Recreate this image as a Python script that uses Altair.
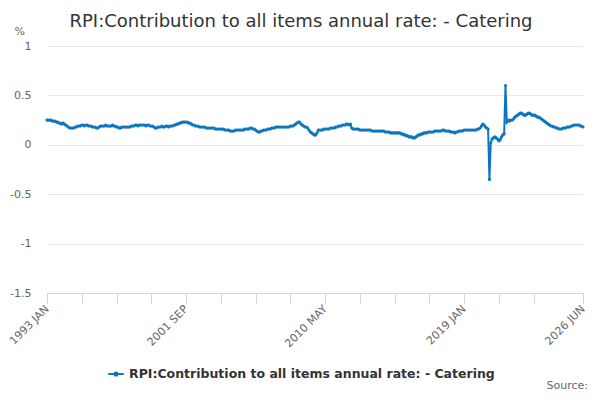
import altair as alt
import pandas as pd

series_name = "RPI:Contribution to all items annual rate: - Catering"
line_color = "#0f76bd"

# monthly values (Jan..Dec)
v1993 = [0.25, 0.25, 0.25, 0.25, 0.24, 0.24, 0.24, 0.23, 0.23, 0.22, 0.22, 0.21]
v1994 = [0.22, 0.21, 0.20, 0.19, 0.18, 0.17, 0.17, 0.17, 0.17, 0.18, 0.18, 0.19]
v1995 = [0.19, 0.19, 0.20, 0.20, 0.19, 0.20, 0.20, 0.19, 0.19, 0.19, 0.18, 0.18]
v1996 = [0.18, 0.17, 0.17, 0.18, 0.19, 0.19, 0.19, 0.19, 0.20, 0.19, 0.19, 0.19]
v1997 = [0.19, 0.20, 0.19, 0.19, 0.18, 0.18, 0.17, 0.17, 0.18, 0.18, 0.18, 0.18]
v1998 = [0.18, 0.18, 0.18, 0.19, 0.19, 0.19, 0.20, 0.20, 0.19, 0.20, 0.20, 0.20]
v1999 = [0.20, 0.20, 0.19, 0.20, 0.20, 0.19, 0.19, 0.19, 0.18, 0.17, 0.17, 0.18]
v2000 = [0.18, 0.18, 0.19, 0.18, 0.18, 0.19, 0.19, 0.18, 0.19, 0.19, 0.19, 0.20]
v2001 = [0.20, 0.21, 0.21, 0.22, 0.22, 0.23, 0.23, 0.23, 0.23, 0.23, 0.22, 0.22]
v2002 = [0.21, 0.20, 0.20, 0.19, 0.19, 0.19, 0.18, 0.18, 0.18, 0.18, 0.18, 0.17]
v2003 = [0.17, 0.17, 0.17, 0.17, 0.17, 0.17, 0.16, 0.16, 0.16, 0.16, 0.16, 0.16]
v2004 = [0.16, 0.15, 0.15, 0.15, 0.15, 0.14, 0.14, 0.14, 0.14, 0.15, 0.15, 0.15]
v2005 = [0.15, 0.15, 0.15, 0.15, 0.16, 0.16, 0.16, 0.16, 0.17, 0.17, 0.16, 0.16]
v2006 = [0.15, 0.14, 0.13, 0.13, 0.14, 0.14, 0.15, 0.15, 0.15, 0.16, 0.16, 0.16]
v2007 = [0.17, 0.17, 0.17, 0.18, 0.18, 0.18, 0.18, 0.18, 0.18, 0.18, 0.18, 0.18]
v2008 = [0.18, 0.18, 0.19, 0.19, 0.19, 0.20, 0.21, 0.22, 0.23, 0.23, 0.21, 0.20]
v2009 = [0.19, 0.18, 0.18, 0.17, 0.15, 0.13, 0.12, 0.11, 0.10, 0.10, 0.12, 0.15]
v2010 = [0.15, 0.15, 0.15, 0.16, 0.16, 0.16, 0.16, 0.16, 0.17, 0.17, 0.17, 0.17]
v2011 = [0.18, 0.18, 0.19, 0.19, 0.19, 0.20, 0.20, 0.20, 0.21, 0.21, 0.20, 0.21]
v2012 = [0.17, 0.16, 0.16, 0.16, 0.16, 0.16, 0.15, 0.15, 0.15, 0.15, 0.15, 0.15]
v2013 = [0.15, 0.15, 0.15, 0.14, 0.14, 0.14, 0.14, 0.14, 0.14, 0.14, 0.14, 0.14]
v2014 = [0.14, 0.13, 0.13, 0.13, 0.13, 0.12, 0.12, 0.12, 0.12, 0.12, 0.12, 0.12]
v2015 = [0.12, 0.11, 0.11, 0.10, 0.10, 0.09, 0.09, 0.08, 0.08, 0.08, 0.07, 0.07]
v2016 = [0.08, 0.09, 0.10, 0.10, 0.11, 0.11, 0.12, 0.12, 0.12, 0.13, 0.13, 0.13]
v2017 = [0.13, 0.13, 0.14, 0.14, 0.14, 0.14, 0.14, 0.14, 0.15, 0.15, 0.14, 0.14]
v2018 = [0.14, 0.14, 0.13, 0.13, 0.13, 0.12, 0.13, 0.13, 0.14, 0.14, 0.14, 0.14]
v2019 = [0.15, 0.15, 0.15, 0.15, 0.15, 0.15, 0.15, 0.15, 0.15, 0.15, 0.16, 0.16]
v2020 = [0.17, 0.19, 0.21, 0.20, 0.18, 0.17, 0.16, -0.35, 0.02, 0.06, 0.07, 0.08]
v2021 = [0.07, 0.06, 0.04, 0.05, 0.08, 0.10, 0.11, 0.60, 0.23, 0.25, 0.24, 0.25]
v2022 = [0.25, 0.26, 0.28, 0.29, 0.30, 0.31, 0.32, 0.32, 0.31, 0.30, 0.30, 0.31]
v2023 = [0.32, 0.32, 0.31, 0.30, 0.30, 0.30, 0.29, 0.28, 0.28, 0.27, 0.26, 0.25]
v2024 = [0.24, 0.23, 0.22, 0.21, 0.20, 0.19, 0.19, 0.18, 0.18, 0.17, 0.17, 0.16]
v2025 = [0.16, 0.16, 0.17, 0.17, 0.17, 0.18, 0.18, 0.18, 0.19, 0.19, 0.20, 0.20]
v2026 = [0.20, 0.20, 0.20, 0.19, 0.19, 0.18]

yearly = [v1993, v1994, v1995, v1996, v1997, v1998, v1999, v2000, v2001, v2002,
          v2003, v2004, v2005, v2006, v2007, v2008, v2009, v2010, v2011, v2012,
          v2013, v2014, v2015, v2016, v2017, v2018, v2019, v2020, v2021, v2022,
          v2023, v2024, v2025, v2026]
month_names = ["JAN", "FEB", "MAR", "APR", "MAY", "JUN",
               "JUL", "AUG", "SEP", "OCT", "NOV", "DEC"]

rows = []
for yi, vals in enumerate(yearly):
    for mi, v in enumerate(vals):
        rows.append({"idx": yi * 12 + mi,
                     "period": f"{1993 + yi} {month_names[mi]}",
                     "value": v,
                     "series": series_name})
df = pd.DataFrame(rows)
last = len(df) - 1

# ticks every 26 categories, labels on every 4th one plus the last category
tick_values = list(range(0, last - 30, 26)) + [last]
label_values = [0, 104, 208, 312, last]
label_expr = "''"
for i in reversed(label_values):
    label_expr = f"datum.value == {i} ? '{df.period[i]}' : ({label_expr})"

y_ticks = [-1.5, -1, -0.5, 0, 0.5, 1]

legend_symbol = ("M-1,0L1,0M-0.2,0A0.2,0.2,0,1,0,0.2,0"
                 "A0.2,0.2,0,1,0,-0.2,0Z")

line = alt.Chart(df).mark_line(
    strokeWidth=2,
    point=alt.OverlayMarkDef(filled=True, size=10),
).encode(
    x=alt.X("idx:Q", scale=alt.Scale(domain=[0, last], nice=False, zero=False),
            axis=alt.Axis(values=tick_values, labelExpr=label_expr, title=None,
                          grid=False, labelAngle=-45, labelAlign="right",
                          labelBaseline="middle", labelPadding=4,
                          domainColor="#ccd6eb", tickColor="#ccd6eb",
                          tickSize=10, labelColor="#666666", labelFontSize=11,
                          labelOverlap=False, labelFlush=False)),
    y=alt.Y("value:Q", scale=alt.Scale(domain=[-1.5, 1], nice=False),
            axis=alt.Axis(values=y_ticks, labelExpr="'' + datum.value",
                          title="%", titleAngle=0, titleX=-33, titleY=-10,
                          titleAlign="left", titleBaseline="bottom",
                          titleFontWeight="normal", titleFontSize=11,
                          titleColor="#666666", domain=False, ticks=False,
                          labelPadding=16, labelColor="#666666",
                          labelFontSize=11, gridColor="#e6e6e6")),
    color=alt.Color("series:N", scale=alt.Scale(range=[line_color]),
                    legend=alt.Legend(orient="none", legendX=60, legendY=319,
                                      title=None, symbolType=legend_symbol,
                                      symbolSize=240, symbolStrokeWidth=2,
                                      symbolFillColor=line_color,
                                      labelFontSize=12.5, labelFontWeight="bold",
                                      labelColor="#333333", labelLimit=500)),
    tooltip=["period:N", "value:Q"],
)

source = alt.Chart(alt.Data(values=[{}])).mark_text(
    align="right", baseline="alphabetic", fontSize=11, color="#666666"
).encode(x=alt.value(541), y=alt.value(343), text=alt.value("Source:"))

chart = alt.layer(line, source).properties(
    width=536, height=247,
    autosize=alt.AutoSizeParams(type="none"),
    padding={"left": 39, "top": 38, "right": 9, "bottom": 99},
    title=alt.TitleParams(series_name, anchor="middle", frame="group",
                          dx=-14, offset=-6, fontSize=18, fontWeight="normal",
                          color="#333333"),
).configure(font="DejaVu Sans").configure_view(stroke=None)

chart.save("out.html", embed_options={"renderer": "svg", "actions": False})
